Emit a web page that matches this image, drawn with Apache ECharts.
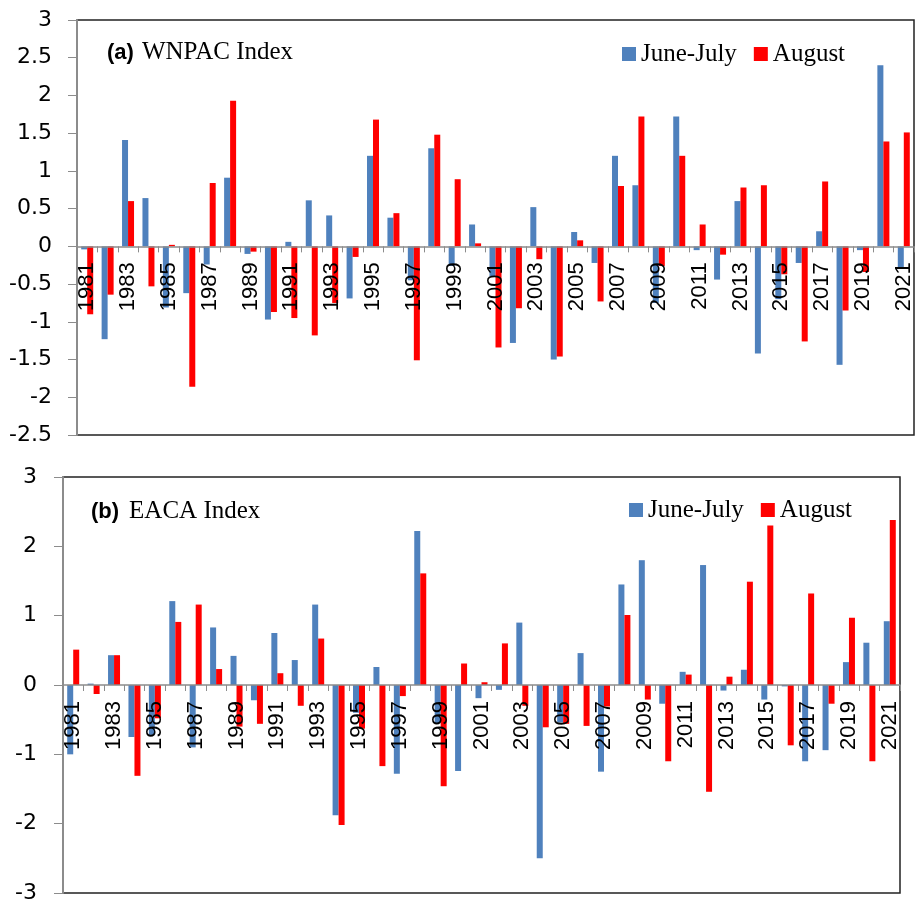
<!DOCTYPE html>
<html>
<head>
<meta charset="utf-8">
<script src="https://cdn.jsdelivr.net/npm/echarts@6/dist/echarts.min.js"></script>
<style>
html,body{margin:0;padding:0;background:#fff;}
#chart{width:919px;height:908px;}
</style>
</head>
<body>
<div id="chart"></div>
<script>
var years = [];
for (var y = 1981; y <= 2021; y++) years.push(String(y));

var wnpacJJ = [-0.04,-1.23,1.41,0.64,-0.81,-0.62,-0.24,0.91,-0.10,-0.97,
  0.06,0.61,0.41,-0.69,1.20,0.38,-0.45,1.30,-0.26,0.29,
  -0.40,-1.28,0.52,-1.50,0.19,-0.22,1.20,0.81,-0.75,1.72,
  -0.05,-0.44,0.60,-1.42,-0.70,-0.22,0.20,-1.57,-0.05,2.40,-0.29];
var wnpacAug = [-0.90,-0.64,0.60,-0.53,0.02,-1.86,0.84,1.93,-0.07,-0.87,
  -0.95,-1.18,-0.75,-0.14,1.68,0.44,-1.51,1.48,0.89,0.04,
  -1.34,-0.82,-0.17,-1.46,0.08,-0.73,0.80,1.72,-0.26,1.20,
  0.29,-0.11,0.78,0.81,-0.37,-1.26,0.86,-0.85,-0.34,1.39,1.51];
var eacaJJ = [-1.00,0.02,0.43,-0.75,-0.72,1.21,-0.90,0.83,0.42,-0.22,
  0.75,0.36,1.16,-1.88,-0.40,0.26,-1.28,2.22,-0.55,-1.24,
  -0.19,-0.07,0.90,-2.50,-0.54,0.46,-1.25,1.45,1.80,-0.27,
  0.19,1.73,-0.08,0.22,-0.21,-0.02,-1.10,-0.94,0.33,0.61,0.92];
var eacaAug = [0.51,-0.13,0.43,-1.31,-0.48,0.91,1.16,0.23,-0.60,-0.56,
  0.17,-0.30,0.67,-2.02,-0.63,-1.17,-0.16,1.61,-1.46,0.31,
  0.04,0.60,-0.30,-0.61,-0.56,-0.59,-0.31,1.01,-0.21,-1.10,
  0.15,-1.54,0.12,1.49,2.30,-0.87,1.32,-0.27,0.97,-1.10,2.38];

var seriesNames = ['June-July', 'August'];
var blue = '#4F81BD', red = '#FF0000';
var axisGrey = '#8c8c8c';

var gridA = {left: 77, top: 20, width: 837, height: 415};
var gridB = {left: 63, top: 477, width: 837, height: 416};
var rangeA = {min: -2.5, max: 3, interval: 0.5};
var rangeB = {min: -3, max: 3, interval: 1};

// place the category axis on the zero line of the value axis
function zeroOffset(grid, range) {
  return -grid.height * (0 - range.min) / (range.max - range.min);
}

function xAxisCfg(gi, off) {
  return {
    gridIndex: gi, type: 'category', data: years, z: 10, offset: off,
    axisLine: {onZero: false, lineStyle: {color: axisGrey, width: 1.5}},
    axisTick: {show: true, interval: 0, length: 6, lineStyle: {color: axisGrey, width: 1}},
    axisLabel: {interval: 1, rotate: 90, margin: 16, fontSize: 22,
      fontFamily: 'Liberation Sans', color: '#000'},
    splitLine: {show: false}
  };
}
function yAxisCfg(gi, r, margin) {
  return {
    gridIndex: gi, type: 'value', min: r.min, max: r.max, interval: r.interval, z: 10,
    axisLine: {show: true, onZero: false, lineStyle: {color: axisGrey, width: 2}},
    axisTick: {show: true, length: 9, lineStyle: {color: axisGrey, width: 1}},
    axisLabel: {margin: margin, fontSize: 22, fontFamily: 'DejaVu Sans', color: '#000'},
    splitLine: {show: false}
  };
}
function bar(name, data, gi, color) {
  return {
    name: name, type: 'bar', xAxisIndex: gi, yAxisIndex: gi, data: data,
    barWidth: 6, barGap: '0%', itemStyle: {color: color}
  };
}
var legendText = {fontFamily: 'Liberation Serif', fontSize: 25, color: '#000', lineHeight: 28};
function gridCfg(g) {
  return {left: g.left, top: g.top, width: g.width, height: g.height, show: true,
    borderColor: '#222', borderWidth: 1.5, backgroundColor: 'transparent'};
}

var option = {
  animation: false,
  backgroundColor: '#fff',
  title: [
    {text: '{a|(a)}{t|WNPAC Index}', left: 102, top: 35,
     textStyle: {rich: {
       a: {fontFamily: 'Liberation Sans', fontWeight: 'bold', fontSize: 22, color: '#000', padding: [0, 8, 0, 0]},
       t: {fontFamily: 'Liberation Serif', fontWeight: 'normal', fontSize: 25, color: '#000'}}}},
    {text: '{a|(b)}{t|EACA Index}', left: 86, top: 494,
     textStyle: {rich: {
       a: {fontFamily: 'Liberation Sans', fontWeight: 'bold', fontSize: 22, color: '#000', padding: [0, 10, 0, 0]},
       t: {fontFamily: 'Liberation Serif', fontWeight: 'normal', fontSize: 25, color: '#000'}}}}
  ],
  legend: [
    {data: seriesNames, left: 622, top: 40, padding: 0, itemWidth: 14, itemHeight: 14,
     itemGap: 17, icon: 'rect', textStyle: legendText},
    {data: seriesNames, left: 629, top: 496, padding: 0, itemWidth: 14, itemHeight: 14,
     itemGap: 17, icon: 'rect', textStyle: legendText}
  ],
  grid: [gridCfg(gridA), gridCfg(gridB)],
  xAxis: [xAxisCfg(0, zeroOffset(gridA, rangeA)), xAxisCfg(1, zeroOffset(gridB, rangeB))],
  yAxis: [yAxisCfg(0, rangeA, 25), yAxisCfg(1, rangeB, 26)],
  series: [
    bar(seriesNames[0], wnpacJJ, 0, blue),
    bar(seriesNames[1], wnpacAug, 0, red),
    bar(seriesNames[0], eacaJJ, 1, blue),
    bar(seriesNames[1], eacaAug, 1, red)
  ]
};
var chart = echarts.init(document.getElementById('chart'));
chart.setOption(option);
</script>
</body>
</html>
